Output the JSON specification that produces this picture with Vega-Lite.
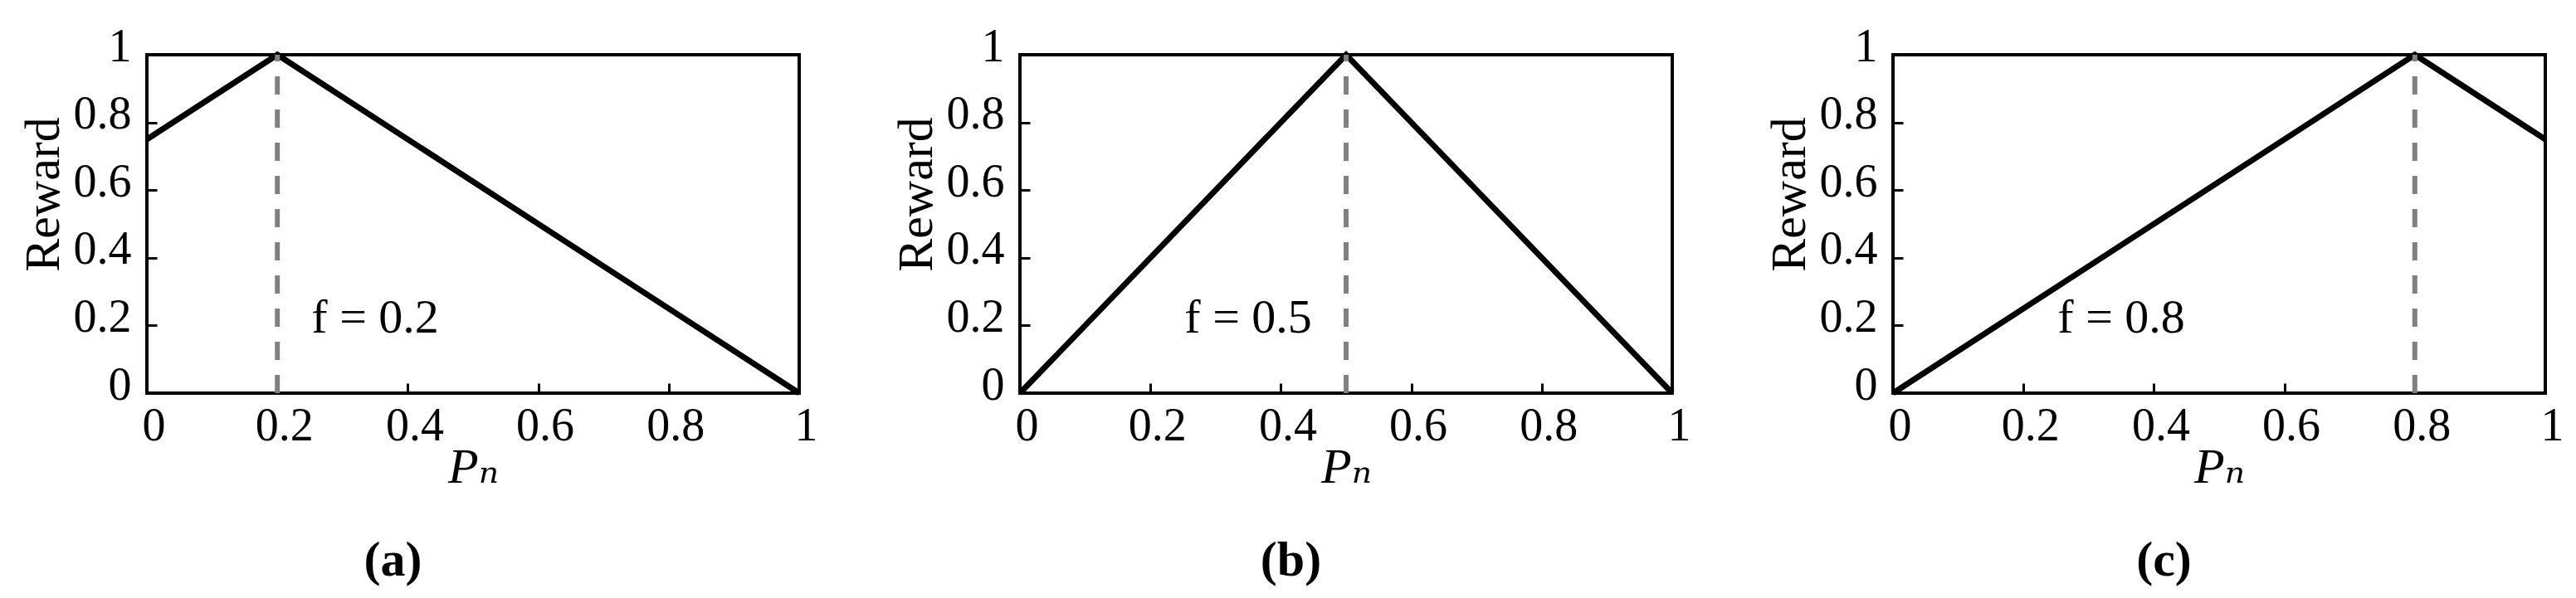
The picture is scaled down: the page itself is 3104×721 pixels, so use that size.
{
  "$schema": "https://vega.github.io/schema/vega-lite/v6.json",
  "background": "white",
  "padding": {"left": 20, "top": 26, "right": 10, "bottom": 10},
  "autosize": {"type": "pad"},
  "datasets": {
    "curve": [
      {"panel": "a", "p": 0, "reward": 0.75},
      {"panel": "a", "p": 0.2, "reward": 1},
      {"panel": "a", "p": 1, "reward": 0},
      {"panel": "b", "p": 0, "reward": 0},
      {"panel": "b", "p": 0.5, "reward": 1},
      {"panel": "b", "p": 1, "reward": 0},
      {"panel": "c", "p": 0, "reward": 0},
      {"panel": "c", "p": 0.8, "reward": 1},
      {"panel": "c", "p": 1, "reward": 0.75}
    ],
    "marker": [
      {"panel": "a", "f": 0.2, "label": "f = 0.2"},
      {"panel": "b", "f": 0.5, "label": "f = 0.5"},
      {"panel": "c", "f": 0.8, "label": "f = 0.8"}
    ]
  },
  "config": {
    "font": "Liberation Serif",
    "view": {"stroke": "black", "strokeWidth": 4},
    "axis": {
      "grid": false,
      "domain": false,
      "ticks": true,
      "tickSize": -12,
      "tickWidth": 3,
      "tickColor": "black",
      "labelFlush": false,
      "labelFont": "Liberation Serif",
      "labelFontSize": 56,
      "labelColor": "black",
      "titleFont": "Liberation Serif, DejaVu Serif",
      "titleFontSize": 60,
      "titleFontWeight": "normal",
      "titleColor": "black"
    },
    "axisX": {"labelPadding": 24, "labelOffset": 8},
    "axisY": {"labelPadding": 31, "labelOffset": -10}
  },
  "bounds": "flush",
  "spacing": 266,
  "hconcat": [
    {
      "width": 786, "height": 408,
      "title": {"text": "(a)", "orient": "bottom", "anchor": "middle", "frame": "bounds", "offset": 54, "dx": -30, "fontSize": 60, "fontWeight": "bold", "font": "Liberation Serif", "color": "black"},
      "layer": [
        {
          "data": {"name": "curve"},
          "transform": [{"filter": "datum.panel === 'a'"}],
          "mark": {"type": "line", "color": "black", "strokeWidth": 7},
          "encoding": {
            "x": {"field": "p", "type": "quantitative", "scale": {"domain": [0, 1], "nice": false}, "axis": {"values": [0, 0.2, 0.4, 0.6, 0.8, 1], "format": "~g", "title": "Pₙ", "titleFontStyle": "italic", "titleBaseline": "alphabetic", "titleY": 107}},
            "y": {"field": "reward", "type": "quantitative", "scale": {"domain": [0, 1], "nice": false}, "axis": {"values": [0, 0.2, 0.4, 0.6, 0.8, 1], "format": "~g", "title": "Reward", "titleBaseline": "alphabetic", "titleX": -107, "titleY": 168}}
          }
        },
        {
          "data": {"name": "marker"},
          "transform": [{"filter": "datum.panel === 'a'"}],
          "mark": {"type": "rule", "color": "#808080", "strokeWidth": 6, "strokeDash": [22, 18]},
          "encoding": {"x": {"field": "f", "type": "quantitative"}, "y": {"datum": 0}, "y2": {"datum": 1}}
        },
        {
          "data": {"name": "marker"},
          "transform": [{"filter": "datum.panel === 'a'"}],
          "mark": {"type": "text", "fontSize": 58, "font": "Liberation Serif", "color": "black", "align": "center", "baseline": "middle"},
          "encoding": {"x": {"datum": 0.35}, "y": {"datum": 0.22}, "text": {"field": "label"}}
        }
      ]
    },
    {
      "width": 786, "height": 408,
      "title": {"text": "(b)", "orient": "bottom", "anchor": "middle", "frame": "bounds", "offset": 54, "fontSize": 60, "fontWeight": "bold", "font": "Liberation Serif", "color": "black"},
      "layer": [
        {
          "data": {"name": "curve"},
          "transform": [{"filter": "datum.panel === 'b'"}],
          "mark": {"type": "line", "color": "black", "strokeWidth": 7},
          "encoding": {
            "x": {"field": "p", "type": "quantitative", "scale": {"domain": [0, 1], "nice": false}, "axis": {"values": [0, 0.2, 0.4, 0.6, 0.8, 1], "format": "~g", "title": "Pₙ", "titleFontStyle": "italic", "titleBaseline": "alphabetic", "titleY": 107}},
            "y": {"field": "reward", "type": "quantitative", "scale": {"domain": [0, 1], "nice": false}, "axis": {"values": [0, 0.2, 0.4, 0.6, 0.8, 1], "format": "~g", "title": "Reward", "titleBaseline": "alphabetic", "titleX": -107, "titleY": 168}}
          }
        },
        {
          "data": {"name": "marker"},
          "transform": [{"filter": "datum.panel === 'b'"}],
          "mark": {"type": "rule", "color": "#808080", "strokeWidth": 6, "strokeDash": [22, 18]},
          "encoding": {"x": {"field": "f", "type": "quantitative"}, "y": {"datum": 0}, "y2": {"datum": 1}}
        },
        {
          "data": {"name": "marker"},
          "transform": [{"filter": "datum.panel === 'b'"}],
          "mark": {"type": "text", "fontSize": 58, "font": "Liberation Serif", "color": "black", "align": "center", "baseline": "middle"},
          "encoding": {"x": {"datum": 0.35}, "y": {"datum": 0.22}, "text": {"field": "label"}}
        }
      ]
    },
    {
      "width": 786, "height": 408,
      "title": {"text": "(c)", "orient": "bottom", "anchor": "middle", "frame": "bounds", "offset": 54, "fontSize": 60, "fontWeight": "bold", "font": "Liberation Serif", "color": "black"},
      "layer": [
        {
          "data": {"name": "curve"},
          "transform": [{"filter": "datum.panel === 'c'"}],
          "mark": {"type": "line", "color": "black", "strokeWidth": 7},
          "encoding": {
            "x": {"field": "p", "type": "quantitative", "scale": {"domain": [0, 1], "nice": false}, "axis": {"values": [0, 0.2, 0.4, 0.6, 0.8, 1], "format": "~g", "title": "Pₙ", "titleFontStyle": "italic", "titleBaseline": "alphabetic", "titleY": 107}},
            "y": {"field": "reward", "type": "quantitative", "scale": {"domain": [0, 1], "nice": false}, "axis": {"values": [0, 0.2, 0.4, 0.6, 0.8, 1], "format": "~g", "title": "Reward", "titleBaseline": "alphabetic", "titleX": -107, "titleY": 168}}
          }
        },
        {
          "data": {"name": "marker"},
          "transform": [{"filter": "datum.panel === 'c'"}],
          "mark": {"type": "rule", "color": "#808080", "strokeWidth": 6, "strokeDash": [22, 18]},
          "encoding": {"x": {"field": "f", "type": "quantitative"}, "y": {"datum": 0}, "y2": {"datum": 1}}
        },
        {
          "data": {"name": "marker"},
          "transform": [{"filter": "datum.panel === 'c'"}],
          "mark": {"type": "text", "fontSize": 58, "font": "Liberation Serif", "color": "black", "align": "center", "baseline": "middle"},
          "encoding": {"x": {"datum": 0.35}, "y": {"datum": 0.22}, "text": {"field": "label"}}
        }
      ]
    }
  ]
}
